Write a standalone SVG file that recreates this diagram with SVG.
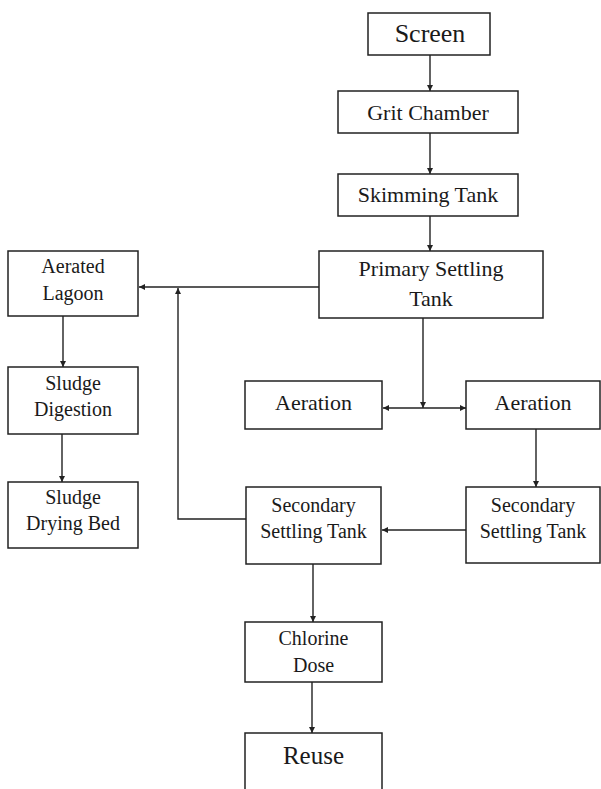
<svg xmlns="http://www.w3.org/2000/svg" width="601" height="789" viewBox="0 0 601 789">
<style>
.box{fill:#fff;stroke:#222;stroke-width:1.5}
.t{font-family:"Liberation Serif","Times New Roman",serif;fill:#1a1a1a;text-anchor:middle}
.l{font-size:22px}
.s{font-size:20px}
.c{fill:none;stroke:#222;stroke-width:1.4}
</style>
<defs>
<marker id="ah" markerWidth="7" markerHeight="7" refX="6" refY="3" orient="auto" markerUnits="userSpaceOnUse">
<path d="M0,0 L6,3 L0,6 z" fill="#222"/>
</marker>
</defs>
<rect width="601" height="789" fill="#fff"/>
<g id="connectors">
<line class="c" x1="430" y1="55" x2="430" y2="91" marker-end="url(#ah)"/>
<line class="c" x1="430" y1="133" x2="430" y2="174" marker-end="url(#ah)"/>
<line class="c" x1="430" y1="216" x2="430" y2="251" marker-end="url(#ah)"/>
<line class="c" x1="319" y1="287" x2="139" y2="287" marker-end="url(#ah)"/>
<polyline class="c" points="246,519 178,519 178,288" marker-end="url(#ah)"/>
<line class="c" x1="423" y1="318" x2="423" y2="408" marker-end="url(#ah)"/>
<line class="c" x1="423" y1="408" x2="383" y2="408" marker-end="url(#ah)"/>
<line class="c" x1="423" y1="408" x2="466" y2="408" marker-end="url(#ah)"/>
<line class="c" x1="536" y1="429" x2="536" y2="487" marker-end="url(#ah)"/>
<line class="c" x1="466" y1="530" x2="382" y2="530" marker-end="url(#ah)"/>
<line class="c" x1="313" y1="564" x2="313" y2="622" marker-end="url(#ah)"/>
<line class="c" x1="312" y1="682" x2="312" y2="733" marker-end="url(#ah)"/>
<line class="c" x1="63" y1="316" x2="63" y2="367" marker-end="url(#ah)"/>
<line class="c" x1="62" y1="434" x2="62" y2="482" marker-end="url(#ah)"/>
</g>
<g id="screen"><rect class="box" x="368" y="13" width="122" height="42"/><text class="t" x="430" y="42" font-size="26">Screen</text></g>
<g id="grit"><rect class="box" x="338" y="91" width="180" height="42"/><text class="t l" x="428" y="120">Grit Chamber</text></g>
<g id="skimming"><rect class="box" x="338" y="174" width="180" height="42"/><text class="t l" x="428" y="202">Skimming Tank</text></g>
<g id="primary"><rect class="box" x="319" y="251" width="224" height="67"/><text class="t l" x="431" y="276">Primary Settling</text><text class="t l" x="431" y="306">Tank</text></g>
<g id="aeration-left"><rect class="box" x="245" y="381" width="137" height="48"/><text class="t l" x="313.5" y="410">Aeration</text></g>
<g id="aeration-right"><rect class="box" x="466" y="381" width="134" height="48"/><text class="t l" x="533" y="410">Aeration</text></g>
<g id="lagoon"><rect class="box" x="8" y="251" width="130" height="65"/><text class="t s" x="73" y="273">Aerated</text><text class="t s" x="73" y="300">Lagoon</text></g>
<g id="digestion"><rect class="box" x="8" y="367" width="130" height="67"/><text class="t s" x="73" y="390">Sludge</text><text class="t s" x="73" y="416">Digestion</text></g>
<g id="drying"><rect class="box" x="8" y="482" width="130" height="66"/><text class="t s" x="73" y="504">Sludge</text><text class="t s" x="73" y="530">Drying Bed</text></g>
<g id="secondary-left"><rect class="box" x="246" y="487" width="135" height="77"/><text class="t s" x="313.5" y="512">Secondary</text><text class="t s" x="313.5" y="538">Settling Tank</text></g>
<g id="secondary-right"><rect class="box" x="466" y="487" width="134" height="76"/><text class="t s" x="533" y="512">Secondary</text><text class="t s" x="533" y="538">Settling Tank</text></g>
<g id="chlorine"><rect class="box" x="245" y="622" width="137" height="60"/><text class="t s" x="313.5" y="645">Chlorine</text><text class="t s" x="313.5" y="672">Dose</text></g>
<g id="reuse"><rect class="box" x="245" y="733" width="137" height="70"/><text class="t" x="313.5" y="764" font-size="25">Reuse</text></g>
</svg>
